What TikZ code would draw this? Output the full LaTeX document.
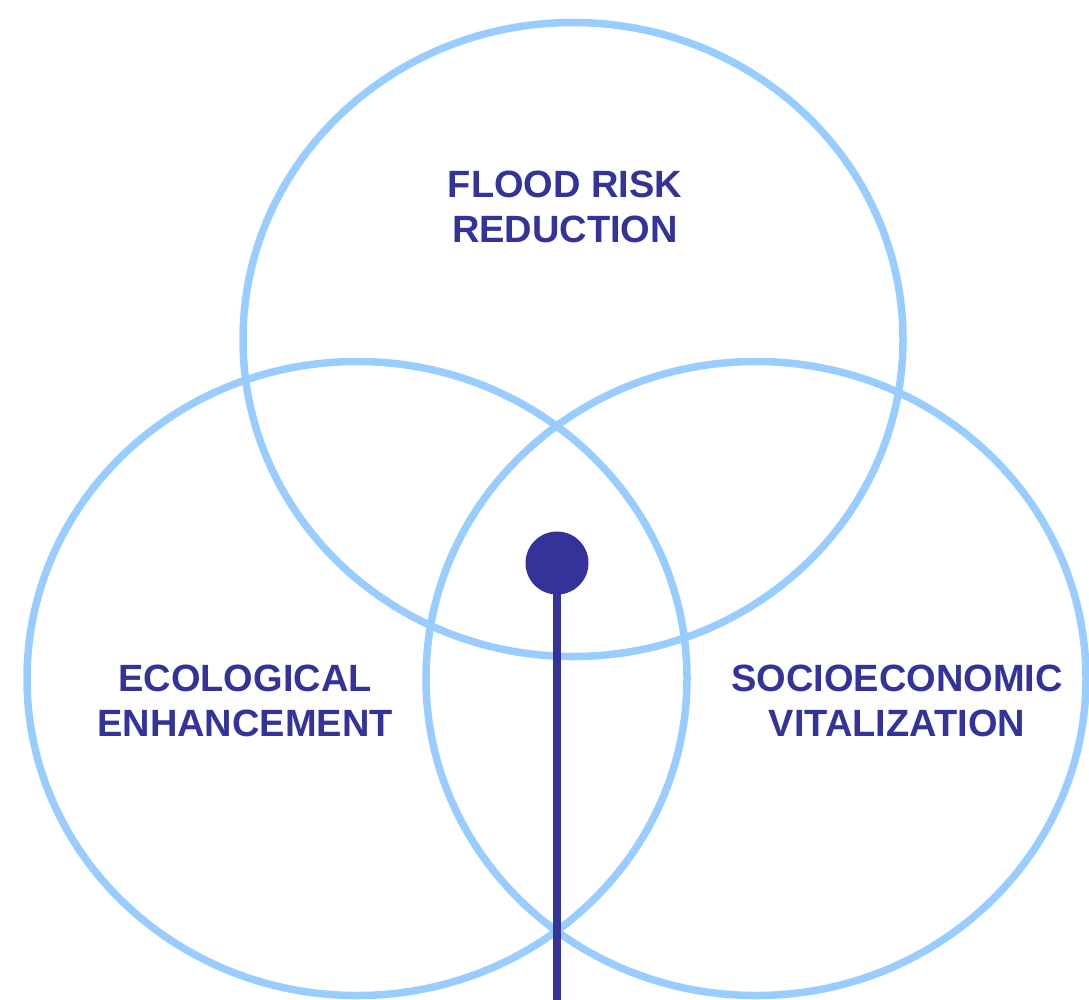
\documentclass[tikz,border=0pt]{standalone}
\usepackage{fontspec}
\setmainfont{Liberation Sans}
\definecolor{ringblue}{HTML}{99CCFF}
\definecolor{inkblue}{HTML}{333399}
\begin{document}
\begin{tikzpicture}[x=1pt,y=-1pt,
  ring/.style={draw=ringblue,line width=7.5pt},
  label/.style={text=inkblue,font=\bfseries\fontsize{38}{45}\selectfont,align=center,inner sep=0pt},
  hub/.style={circle,fill=inkblue,minimum size=63pt,inner sep=0pt},
  stem/.style={draw=inkblue,line width=7.5pt}]
\useasboundingbox (0,0) rectangle (1089,999);
\draw[ring] (573,339.5) ellipse [x radius=330, y radius=317];
\draw[ring] (357,678.5) ellipse [x radius=330, y radius=317];
\draw[ring] (756,678.5) ellipse [x radius=330, y radius=317];
\node[label] (flood) at (565,207) {FLOOD RISK\\REDUCTION};
\node[label] (eco) at (245,701) {ECOLOGICAL\\ENHANCEMENT};
\node[label] (socio) at (897,701) {SOCIOECONOMIC\\VITALIZATION};
\node[hub] (dot) at (557,563) {};
\coordinate (end) at (557,1005);
\draw[stem] (dot.center) -- (end);
\end{tikzpicture}
\end{document}
